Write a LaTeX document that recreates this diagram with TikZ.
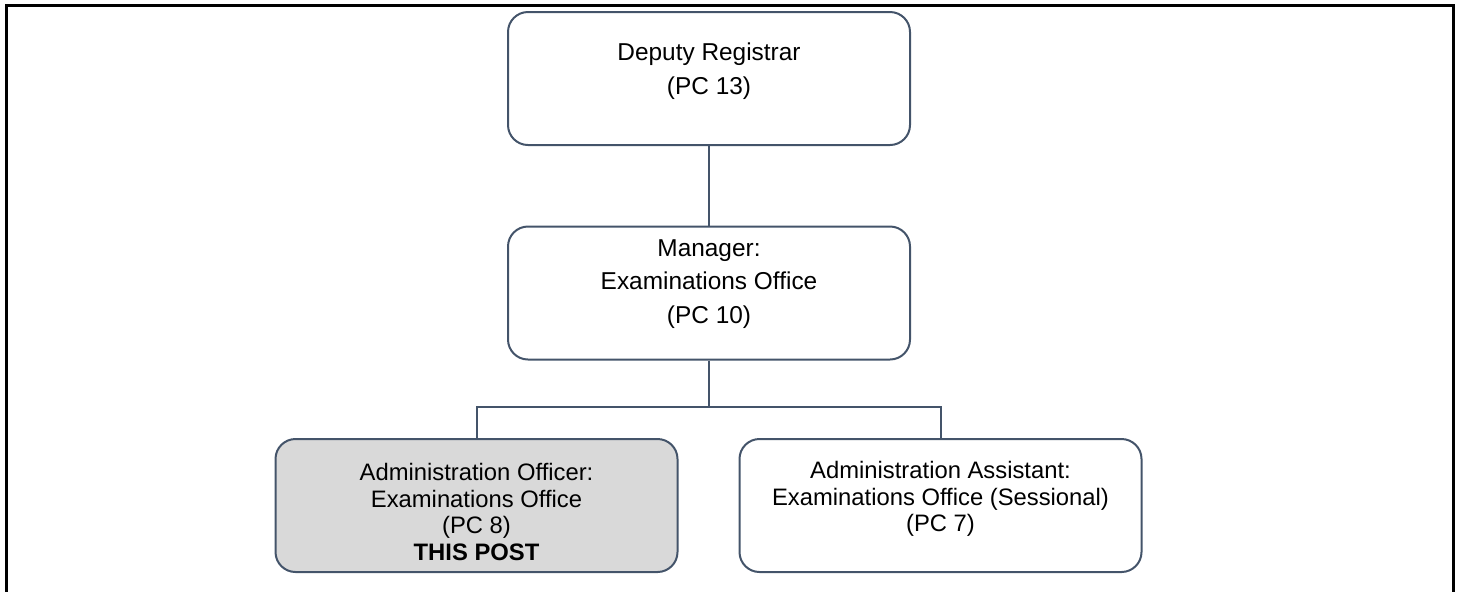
\documentclass[tikz,border=0pt]{standalone}
\usepackage{fontspec}
\setmainfont{Liberation Sans}
\usetikzlibrary{positioning}
\definecolor{slate}{RGB}{68,84,106}
\definecolor{postgray}{RGB}{217,217,217}
\tikzset{
  post/.style={draw=slate, line width=1pt, rounded corners=10pt,
    minimum width=201pt, minimum height=66.5pt, inner sep=0pt},
  posttext/.style={align=center, font=\fontsize{11.9}{13.4}\selectfont},
  toptext/.style={align=center, font=\fontsize{12.2}{16.9}\selectfont},
  link/.style={draw=slate, line width=1pt},
}

\begin{document}
\begin{tikzpicture}[x=0.5pt,y=-0.5pt]
    \useasboundingbox (0,0) rectangle (1459,591);
    % outer frame, open at the bottom
    \draw [line width=1.5pt] (6.5,600) -- (6.5,5.5) -- (1453.5,5.5) -- (1453.5,600);

    \node [post] (registrar) at (709,78.5) {};
    \node [post] (manager) at (709,293) {};
    \node [post, fill=postgray] (officer) at (476.5,505.5) {};
    \node [post] (assistant) at (940.5,505.5) {};

    \node [toptext] (registrar-txt) at (709,71.5) {Deputy Registrar\\(PC 13)};
    \node [toptext] (manager-txt) at (709,284) {Manager:\\Examinations Office\\(PC 10)};
    \node [posttext] (officer-txt) at (476.5,512) {Administration Officer:\\Examinations Office\\(PC 8)\\\textbf{THIS POST}};
    \node [posttext] (assistant-txt) at (940.5,499) {Administration Assistant:\\Examinations Office (Sessional)\\(PC 7)};

    \coordinate (split) at (709,407);
    \draw [link] (registrar) -- (manager);
    \draw [link] (manager) -- (split);
    \draw [link] (officer.north) |- (split) -| (assistant.north);
\end{tikzpicture}
\end{document}
